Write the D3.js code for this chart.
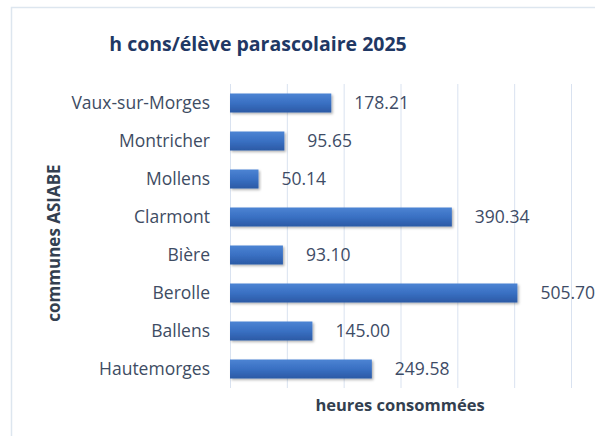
<!DOCTYPE html>
<html><head><meta charset="utf-8">
<script src="https://cdn.jsdelivr.net/npm/d3@7"></script>
<style>body{margin:0;background:#fff;}svg{display:block;}</style>
</head><body>
<svg id="c" width="595" height="436"></svg>
<script>
const categories = ["Vaux-sur-Morges","Montricher","Mollens","Clarmont","Bière","Berolle","Ballens","Hautemorges"];
const values = [178.21, 95.65, 50.14, 390.34, 93.10, 505.70, 145.00, 249.58];
const xTicks = [0,100,200,300,400,500,600];
const title = "h cons/élève parascolaire 2025";
const xTitle = "heures consommées";
const yTitle = "communes ASIABE";

const svg = d3.select("#c");
const font = "'Open Sans', sans-serif";

const defs = svg.append("defs");
const g = defs.append("linearGradient").attr("id","bg").attr("x1",0).attr("y1",0).attr("x2",0).attr("y2",1);
g.append("stop").attr("offset","0%").attr("stop-color","#4c84d3");
g.append("stop").attr("offset","50%").attr("stop-color","#3a70c3");
g.append("stop").attr("offset","100%").attr("stop-color","#2b5aa5");
const f = defs.append("filter").attr("id","sh").attr("x","-5%").attr("y","-20%").attr("width","115%").attr("height","160%");
f.append("feDropShadow").attr("dx",1.5).attr("dy",1.5).attr("stdDeviation",1).attr("flood-color","#000").attr("flood-opacity",0.3);

// chart border
svg.append("rect").attr("x",11.5).attr("y",7.5).attr("width",600).attr("height",440)
  .attr("fill","#fff").attr("stroke","#dde6ef").attr("stroke-width",1.5);

const x = d3.scaleLinear().domain([0,600]).range([230,571]);
const y = d3.scaleBand().domain(categories).range([84,388]).paddingInner(0.5).paddingOuter(0.25);

// gridlines
svg.append("g").attr("transform","translate(0,388)")
  .call(d3.axisBottom(x).tickValues(xTicks).tickSize(-(388-84)).tickFormat(""))
  .call(s=>s.select(".domain").remove())
  .call(s=>s.selectAll(".tick line").attr("stroke","#d9e2f0").attr("stroke-width",1));

// category axis
svg.append("g").attr("transform","translate(230,0)")
  .call(d3.axisLeft(y).tickSize(0).tickPadding(20))
  .call(s=>s.select(".domain").remove())
  .call(s=>s.selectAll("text").attr("font-family",font).attr("font-size",17.5).attr("fill","#3e4c63"));

// bars
svg.append("g").selectAll("rect").data(values).join("rect")
  .attr("x",x(0)).attr("y",(d,i)=>y(categories[i]))
  .attr("width",d=>x(d)-x(0)).attr("height",y.bandwidth())
  .attr("fill","url(#bg)").attr("filter","url(#sh)");

// value labels
svg.append("g").selectAll("text").data(values).join("text")
  .attr("x",d=>x(d)+23).attr("y",(d,i)=>y(categories[i])+y.bandwidth()/2)
  .attr("dy","0.35em")
  .attr("font-family",font).attr("font-size",17.5).attr("fill","#3e4c66")
  .text(d=>d3.format(".2f")(d));

// title
svg.append("text").attr("x",258).attr("y",51).attr("text-anchor","middle")
  .attr("font-family",font).attr("font-weight","bold").attr("font-size",19.5).attr("fill","#1f3864")
  .text(title);

// x title
svg.append("text").attr("x",400).attr("y",411).attr("text-anchor","middle")
  .attr("font-family",font).attr("font-weight","bold").attr("font-size",16.5).attr("fill","#333f50")
  .text(xTitle);

// y title
svg.append("text").attr("transform","translate(60,243) rotate(-90)").attr("text-anchor","middle")
  .attr("font-family",font).attr("font-weight","bold").attr("font-size",17).attr("fill","#333f50")
  .text(yTitle);
</script>
</body></html>
